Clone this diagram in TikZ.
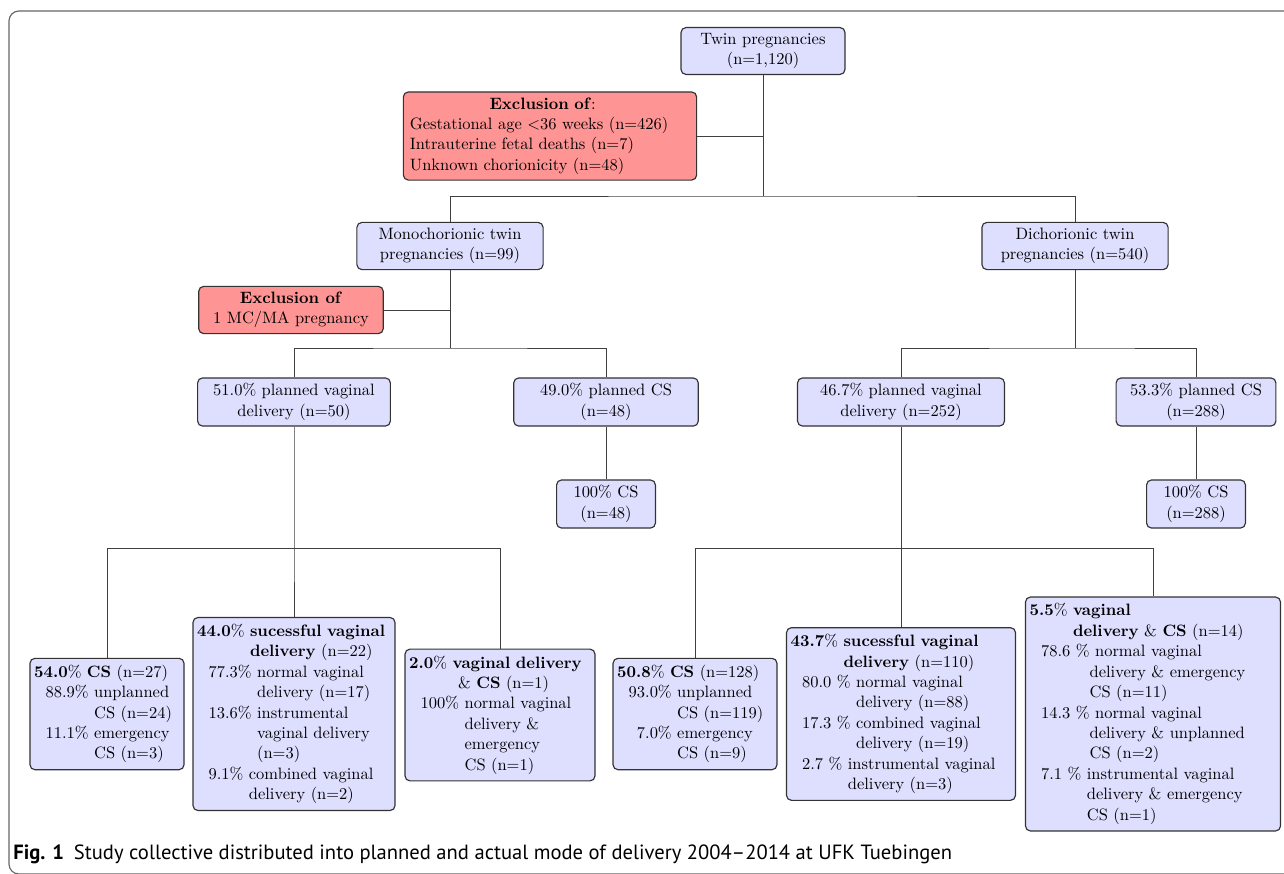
\documentclass[tikz,border=0pt]{standalone}
\usepackage{fontspec}
\newfontfamily\capfont{PT Sans}
\usepackage{tikz}
\newcommand{\ind}{\hspace*{7pt}}

\begin{document}
\begin{tikzpicture}[x=0.607pt,y=-0.607pt,
  box/.style={draw=black!80,line width=0.7pt,rounded corners=3pt,fill=blue!13,
    align=center,inner xsep=4pt,inner ysep=3.4pt,font=\fontsize{10}{12.4}\selectfont},
  excl/.style={box,fill=red!42},
  leaf/.style={box,align=left,inner xsep=2.5pt,inner ysep=4pt},
  link/.style={draw=black!75,line width=0.6pt}]
\useasboundingbox (0,0) rectangle (1284,873);
\draw[black!60,line width=0.7pt,rounded corners=6pt] (9,11) rectangle (1320,874);
%top
\node[box,minimum width=99.5pt] (twin) at (763,51) {Twin pregnancies\\(n=1,120)};
\node[excl,text width=170pt,align=left] (exall) at (550,136) {\makebox[161pt]{\textbf{Exclusion of}:}\\
  Gestational age $<$36 weeks (n=426)\\Intrauterine fetal deaths (n=7)\\Unknown chorionicity (n=48)};
\node[box,minimum width=113pt] (mono) at (450,246) {Monochorionic twin\\pregnancies (n=99)};
\node[box,minimum width=113pt] (di) at (1075,246) {Dichorionic twin\\pregnancies (n=540)};
\node[excl,minimum width=112pt] (exmc) at (291,310) {\textbf{Exclusion of}\\1 MC/MA pregnancy};
%planned mode
\node[box,minimum width=117pt] (mpv) at (294,402) {51.0\% planned vaginal\\delivery (n=50)};
\node[box,minimum width=112pt] (mpc) at (606,402) {49.0\% planned CS\\(n=48)};
\node[box,minimum width=125.6pt] (dpv) at (901,402) {46.7\% planned vaginal\\delivery (n=252)};
\node[box,minimum width=97pt] (dpc) at (1196,402) {53.3\% planned CS\\(n=288)};
\node[box,minimum width=60pt] (mcs) at (606,504) {100\% CS\\(n=48)};
\node[box,minimum width=60pt] (dcs) at (1196,504) {100\% CS\\(n=288)};
%actual mode, monochorionic
\node[leaf,text width=88.5pt] (mcs1) at (107,714) {\textbf{54.0}\% \textbf{CS} (n=27)\\
  \ind 88.9\% unplanned\\
  \ind\phantom{88.9\% }CS (n=24)\\
  \ind 11.1\% emergency\\
  \ind\phantom{11.1\% }CS (n=3)};
\node[leaf,text width=117.6pt] (mvd) at (294,714) {\textbf{44.0}\% \textbf{sucessful vaginal}\\
  \phantom{\textbf{44.0}\% }\textbf{delivery} (n=22)\\
  \ind 77.3\% normal vaginal\\
  \ind\phantom{77.3\% }delivery (n=17)\\
  \ind 13.6\% instrumental\\
  \ind\phantom{13.6\% }vaginal delivery\\
  \ind\phantom{13.6\% }(n=3)\\
  \ind 9.1\% combined vaginal\\
  \ind\phantom{9.1\% }delivery (n=2)};
\node[leaf,text width=110.3pt] (mmix) at (500,715) {\textbf{2.0}\% \textbf{vaginal delivery}\\
  \phantom{\textbf{2.0}\% } \& \textbf{CS} (n=1)\\
  \ind 100\% normal vaginal\\
  \ind\phantom{100\% }delivery \&\\
  \ind\phantom{100\% }emergency\\
  \ind\phantom{100\% }CS (n=1)};
%actual mode, dichorionic
\node[leaf,text width=94.5pt] (dcs1) at (695,714) {\textbf{50.8}\% \textbf{CS} (n=128)\\
  \ind 93.0\% unplanned\\
  \ind\phantom{93.0\% }CS (n=119)\\
  \ind\phantom{9}7.0\% emergency\\
  \ind\phantom{93.0\% }CS (n=9)};
\node[leaf,text width=134pt] (dvd) at (901,714) {\textbf{43.7}\% \textbf{sucessful vaginal}\\
  \phantom{\textbf{43.7}\% }\textbf{delivery} (n=110)\\
  \ind 80.0 \% normal vaginal\\
  \ind\phantom{80.0 \% }delivery (n=88)\\
  \ind 17.3 \% combined vaginal\\
  \ind\phantom{17.3 \% }delivery (n=19)\\
  \ind 2.7 \% instrumental vaginal\\
  \ind\phantom{2.7 \% }delivery (n=3)};
\node[leaf,text width=149.8pt] (dmix) at (1153,714) {\textbf{5.5}\% \textbf{vaginal}\\
  \phantom{\textbf{5.5}\% }\textbf{delivery} \& \textbf{CS} (n=14)\\
  \ind 78.6 \% normal vaginal\\
  \ind\phantom{78.6 \%}delivery \& emergency\\
  \ind\phantom{78.6 \%}CS (n=11)\\
  \ind 14.3 \% normal vaginal\\
  \ind\phantom{14.3 \%}delivery \& unplanned\\
  \ind\phantom{14.3 \%}CS (n=2)\\
  \ind 7.1 \% instrumental vaginal\\
  \ind\phantom{7.1 \% }delivery \& emergency\\
  \ind\phantom{7.1 \% }CS (n=1)};
%connectors
\coordinate (s1) at (763,196);
\coordinate (s2) at (450,348);
\coordinate (s3) at (1075,348);
\coordinate (s4) at (294,548);
\coordinate (s5) at (901,548);
\draw[link] (twin.south) -- (s1);
\draw[link] (mono.north) |- (s1) -| (di.north);
\draw[link] (exall.east) -- (exall.east -| twin.south);
\draw[link] (mono.south) -- (s2);
\draw[link] (exmc.east) -- (exmc.east -| mono.south);
\draw[link] (mpv.north) |- (s2) -| (mpc.north);
\draw[link] (di.south) -- (s3);
\draw[link] (dpv.north) |- (s3) -| (dpc.north);
\draw[link] (mpc.south) -- (mcs.north);
\draw[link] (dpc.south) -- (dcs.north);
\draw[link] (mpv.south) -- (s4) -- (mvd.north);
\draw[link] (mcs1.north) |- (s4) -| (mmix.north);
\draw[link] (dpv.south) -- (s5) -- (dvd.north);
\draw[link] (dcs1.north) |- (s5) -| (dmix.north);
%caption
\node[anchor=base west,inner sep=0pt,font=\capfont\fontsize{12.5}{15}\selectfont] (cap) at (13,859)
  {\textbf{Fig. 1}\hspace{6pt}Study collective distributed into planned and actual mode of delivery 2004–2014 at UFK Tuebingen};
\end{tikzpicture}
\end{document}
